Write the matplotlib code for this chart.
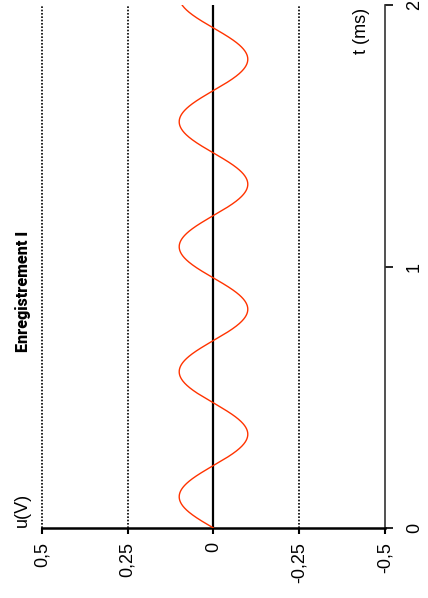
import matplotlib
matplotlib.use('Agg')
import numpy as np
import matplotlib.pyplot as plt

plt.rcParams['font.family'] = ['Liberation Sans', 'DejaVu Sans']

# values
amplitude_V = 0.10      # peak voltage
period_ms = 0.478       # 4 full periods end near t = 1.91 ms
t_max_ms = 2.0

u_ticks = [0.5, 0.25, 0, -0.25, -0.5]
u_ticklabels = ['0,5', '0,25', '0', '-0,25', '-0,5']
t_ticks = [0, 1, 2]
t_ticklabels = ['0', '1', '2']
dotted_u = [0.5, 0.25, -0.25]

t = np.linspace(0., t_max_ms, 3000)
u = amplitude_V * np.sin(2 * np.pi * t / period_ms)

fig = plt.figure(figsize=(4.28, 5.98), dpi=100)
ax = fig.add_axes([42 / 428, 70 / 598, 343 / 428, 523 / 598])

# the chart is drawn turned a quarter turn: t runs upward, u runs right-to-left
ax.plot(u, t, color='#ff3300', lw=1.0, zorder=3)
ax.axvline(0, color='black', lw=1.6, zorder=2)
for v in dotted_u:
    ax.axvline(v, color='black', lw=1.2, ls=(0, (1, 1.0)), clip_on=False, zorder=1)

ax.set_xlim(0.5, -0.5)
ax.set_ylim(0, t_max_ms)

ax.spines['top'].set_visible(False)
ax.spines['left'].set_visible(False)
ax.spines['bottom'].set_linewidth(1.8)
ax.spines['right'].set_linewidth(1.2)
ax.spines['right'].set_color('#333333')

ax.set_xticks(u_ticks)
ax.set_xticklabels(u_ticklabels, rotation=90, fontsize=13)
ax.tick_params(axis='x', direction='out', length=4, width=1.5, pad=6)

ax.yaxis.tick_right()
ax.set_yticks(t_ticks)
ax.set_yticklabels(t_ticklabels, rotation=90, fontsize=13, va='center')
ax.tick_params(axis='y', direction='out', length=6, width=1.2, pad=9)

fig.text(23 / 428, 1 - 291 / 598, 'Enregistrement I', rotation=90,
         family=['Roboto', 'DejaVu Sans'], fontsize=11.5, weight='black',
         ha='center', va='center')
fig.text(22 / 428, 1 - 510 / 598, 'u(V)', rotation=90,
         fontsize=13, ha='center', va='center')
fig.text(361 / 428, 1 - 31 / 598, 't (ms)', rotation=90,
         fontsize=13, ha='center', va='center')

fig.savefig('out.png', dpi=100, facecolor='white')
